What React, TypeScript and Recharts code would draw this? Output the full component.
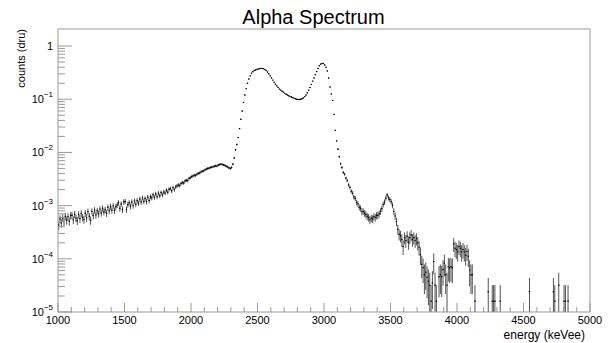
import React from 'react';
import { ScatterChart, Scatter, XAxis, YAxis, ErrorBar, ReferenceLine } from 'recharts';

// Histogram: 10 keV bins starting at 1000 keVee
const BIN_START = 1000;
const BIN_WIDTH = 10;
const COUNT_UNIT = 1.6e-5; // value of a single count (dru)

const counts: (number | null)[] = [
  // 1000
  4.3e-4, 5.6e-4, 4.7e-4, 5.9e-4, 5.0e-4, 6.3e-4, 5.3e-4, 6.2e-4, 5.1e-4, 6.5e-4,
  // 1100
  6.6e-4, 5.4e-4, 6.9e-4, 5.8e-4, 5.2e-4, 6.8e-4, 5.7e-4, 7.1e-4, 6.0e-4, 5.5e-4,
  // 1200
  7.2e-4, 5.9e-4, 7.7e-4, 6.3e-4, 5.3e-4, 7.8e-4, 6.5e-4, 8.2e-4, 6.7e-4, 8.0e-4,
  // 1300
  7.0e-4, 8.6e-4, 7.3e-4, 8.9e-4, 7.6e-4, 8.4e-4, 7.2e-4, 9.3e-4, 8.0e-4, 9.6e-4,
  // 1400
  8.2e-4, 9.9e-4, 8.1e-4, 9.5e-4, 1.03e-3, 1.13e-3, 8.9e-4, 1.07e-3, 8.4e-4, 1.17e-3,
  // 1500
  1.2e-3, 8.5e-4, 1.04e-3, 1.13e-3, 9.7e-4, 1.17e-3, 1.0e-3, 1.23e-3, 1.06e-3, 1.25e-3,
  // 1600
  1.11e-3, 1.33e-3, 1.17e-3, 1.4e-3, 1.2e-3, 1.36e-3, 1.19e-3, 1.44e-3, 1.25e-3, 1.47e-3,
  // 1700
  1.4e-3, 1.6e-3, 1.43e-3, 1.66e-3, 1.47e-3, 1.72e-3, 1.53e-3, 1.76e-3, 1.59e-3, 1.8e-3,
  // 1800
  1.72e-3, 1.95e-3, 1.79e-3, 2.03e-3, 2.1e-3, 1.9e-3, 2.18e-3, 2.0e-3, 2.25e-3, 2.35e-3,
  // 1900
  2.45e-3, 2.38e-3, 2.6e-3, 2.72e-3, 2.66e-3, 2.9e-3, 3.0e-3, 2.95e-3, 3.25e-3, 3.35e-3,
  // 2000
  3.5e-3, 3.6e-3, 3.75e-3, 3.7e-3, 3.9e-3, 4.05e-3, 4.1e-3, 4.3e-3, 4.45e-3, 4.5e-3,
  // 2100
  4.7e-3, 4.85e-3, 5.0e-3, 5.05e-3, 5.2e-3, 5.3e-3, 5.35e-3, 5.5e-3, 5.6e-3, 5.55e-3,
  // 2200
  5.8e-3, 5.9e-3, 6.0e-3, 5.95e-3, 5.8e-3, 5.7e-3, 5.5e-3, 5.35e-3, 5.15e-3, 5.0e-3,
  // 2300
  5.2e-3, 6.0e-3, 7.9e-3, 1.12e-2, 1.41e-2, 1.9e-2, 2.8e-2, 4.2e-2, 6.0e-2, 8.7e-2,
  // 2400
  0.12, 0.158, 0.2, 0.24, 0.275, 0.31, 0.33, 0.347, 0.355, 0.363,
  // 2500
  0.37, 0.376, 0.38, 0.38, 0.376, 0.363, 0.347, 0.324, 0.302, 0.275,
  // 2600
  0.251, 0.229, 0.209, 0.191, 0.178, 0.166, 0.155, 0.148, 0.141, 0.135,
  // 2700
  0.129, 0.124, 0.12, 0.116, 0.112, 0.11, 0.107, 0.105, 0.102, 0.1,
  // 2800
  0.099, 0.099, 0.1, 0.102, 0.106, 0.112, 0.12, 0.132, 0.148, 0.166,
  // 2900
  0.19, 0.219, 0.251, 0.288, 0.331, 0.38, 0.427, 0.457, 0.468, 0.468,
  // 3000
  0.44, 0.4, 0.34, 0.25, 0.17, 0.125, 0.095, 0.052, 0.026, 0.0165,
  // 3100
  1.15e-2, 8.3e-3, 6.1e-3, 5.2e-3, 4.2e-3, 3.9e-3, 3.3e-3, 2.95e-3, 2.45e-3, 2.2e-3,
  // 3200
  1.86e-3, 1.72e-3, 1.45e-3, 1.36e-3, 1.15e-3, 1.08e-3, 9.3e-4, 8.9e-4, 7.7e-4, 7.8e-4,
  // 3300
  7.2e-4, 6.8e-4, 6.3e-4, 6.0e-4, 5.4e-4, 5.8e-4, 5.6e-4, 6.2e-4, 6.0e-4, 6.5e-4,
  // 3400
  6.6e-4, 7.0e-4, 7.8e-4, 8.8e-4, 1.05e-3, 1.17e-3, 1.38e-3, 1.58e-3, 1.4e-3, 1.3e-3,
  // 3500
  1.18e-3, 1.02e-3, 7.8e-4, 6.4e-4, 5.0e-4, 3.6e-4, 2.9e-4, 2.7e-4, 2.3e-4, 1.7e-4,
  // 3600
  2.5e-4, 2.2e-4, 2.65e-4, 2.05e-4, 2.5e-4, 2.8e-4, 2.3e-4, 2.5e-4, 2.2e-4, 2.4e-4,
  // 3700
  2.0e-4, 1.66e-4, 1.2e-4, 7.9e-5, 6.8e-5, 5.0e-5, 5.6e-5, 4.5e-5, 3.8e-5, 3.2e-5,
  // 3800
  1.6e-5, 3.5e-5, 8.9e-5, 3.2e-5, 1.6e-5, null, 4.6e-5, 5.0e-5, 4.6e-5, 6.3e-5,
  // 3900
  8.3e-5, 5.0e-5, 3.2e-5, 7.1e-5, 6.8e-5, 7.1e-5, 6.8e-5, 1.9e-4, 1.58e-4, 1.48e-4,
  // 4000
  1.35e-4, 1.7e-4, 1.58e-4, 1.35e-4, 1.5e-4, 1.35e-4, 1.17e-4, 1.38e-4, 1.12e-4, 6.2e-5,
  // 4100
  5.0e-5, 5.0e-5, null, 1.6e-5,
];

// sparse high-energy tail (bin centres, keVee)
const tailEnergies = [4235, 4265, 4275, 4285, 4325, 4545, 4725, 4735, 4765, 4805, 4815, 4835];
const tailCounts = [2.4e-5, 1.6e-5, 1.6e-5, 1.6e-5, 1.6e-5, 2.4e-5, 2.4e-5, 1.6e-5, 3.2e-5, 1.6e-5, 1.6e-5, 1.6e-5];

const X_MIN = 1000;
const X_MAX = 5000;
const Y_MIN = 1e-5;
const Y_MAX = 2.09;

const xTicks = [
  1000, 1100, 1200, 1300, 1400, 1500, 1600, 1700, 1800, 1900,
  2000, 2100, 2200, 2300, 2400, 2500, 2600, 2700, 2800, 2900,
  3000, 3100, 3200, 3300, 3400, 3500, 3600, 3700, 3800, 3900,
  4000, 4100, 4200, 4300, 4400, 4500, 4600, 4700, 4800, 4900, 5000,
];
const xMajorLabels = [1000, 1500, 2000, 2500, 3000, 3500, 4000, 4500, 5000];
const yDecades = [1e-5, 1e-4, 1e-3, 1e-2, 1e-1];
const yMinorMult = [2, 3, 4, 5, 6, 7, 8, 9];
const yDecadeExponents = [-5, -4, -3, -2, -1, 0];

const yTicks: number[] = [];
yDecades.forEach((d) => {
  yTicks.push(d);
  yMinorMult.forEach((m) => yTicks.push(m * d));
});
yTicks.push(1);

type Pt = { x: number; y: number; yErr: [number, number]; xErr: number };
const makePoint = (x: number, v: number): Pt => {
  const err = Math.sqrt(v * COUNT_UNIT);
  const lo = Math.min(err, v - Y_MIN);
  return { x, y: v, yErr: [lo, err], xErr: BIN_WIDTH / 2 };
};

const points: Pt[] = [];
counts.forEach((v, i) => {
  if (v == null) return;
  points.push(makePoint(BIN_START + i * BIN_WIDTH + BIN_WIDTH / 2, v));
});
tailEnergies.forEach((e, i) => points.push(makePoint(e, tailCounts[i])));

const FONT = 'Liberation Sans, Arial, Helvetica, sans-serif';
const AXIS_COLOR = '#999';

const XTick = (props: any) => {
  const { x, y, payload } = props;
  const v = payload.value as number;
  const major = xMajorLabels.includes(v);
  return (
    <g>
      <line x1={x} y1={y} x2={x} y2={y - (major ? 9 : 5)} stroke={AXIS_COLOR} strokeWidth={1} />
      {major && (
        <text x={x} y={y + 8} textAnchor="middle" dominantBaseline="central" fontSize={11} fontFamily={FONT} fill="#000">
          {v}
        </text>
      )}
    </g>
  );
};

const YTick = (props: any) => {
  const { x, y, payload } = props;
  const v = payload.value as number;
  const lg = Math.log10(v);
  const exp = Math.round(lg);
  const major = Math.abs(lg - exp) < 1e-6 && yDecadeExponents.includes(exp);
  return (
    <g>
      <line x1={x} y1={y} x2={x + (major ? 14 : 7)} y2={y} stroke={AXIS_COLOR} strokeWidth={1} />
      {major && (
        <text x={x - 5} y={y} textAnchor="end" dominantBaseline="central" fontSize={11} fontFamily={FONT} fill="#000">
          {exp === 0 ? (
            '1'
          ) : (
            <>
              <tspan>10</tspan>
              <tspan dy={-5} fontSize={8}>{'\u2212' + String(-exp)}</tspan>
            </>
          )}
        </text>
      )}
    </g>
  );
};

const Marker = (p: any) => {
  if (p.cx == null || p.cy == null) return <g />;
  return <circle cx={p.cx} cy={p.cy} r={0.7} fill="#000" />;
};

export default function App() {
  return (
    <div style={{ position: 'absolute', left: 0, top: 0, width: 611, height: 343, background: '#fff' }}>
      <ScatterChart width={611} height={343} margin={{ top: 29, right: 21, bottom: 0, left: 0 }}>
        <XAxis
          type="number"
          dataKey="x"
          domain={[X_MIN, X_MAX]}
          ticks={xTicks}
          interval={0}
          allowDataOverflow
          height={31}
          tickSize={0}
          tickMargin={0}
          tickLine={false}
          axisLine={{ stroke: AXIS_COLOR }}
          tick={<XTick />}
        />
        <YAxis
          type="number"
          dataKey="y"
          scale="log"
          domain={[Y_MIN, Y_MAX]}
          ticks={yTicks}
          interval={0}
          allowDataOverflow
          width={58}
          tickSize={0}
          tickMargin={0}
          tickLine={false}
          axisLine={{ stroke: AXIS_COLOR }}
          tick={<YTick />}
        />
        <ReferenceLine y={Y_MAX} stroke={AXIS_COLOR} ifOverflow="visible" />
        <ReferenceLine x={X_MAX} stroke={AXIS_COLOR} ifOverflow="visible" />
        <Scatter data={points} isAnimationActive={false} shape={<Marker />}>
          <ErrorBar dataKey="yErr" direction="y" width={0} stroke="#555" strokeWidth={1} />
          <ErrorBar dataKey="xErr" direction="x" width={0} stroke="#555" strokeWidth={1} />
        </Scatter>
      </ScatterChart>
      <svg
        width={611}
        height={343}
        style={{ position: 'absolute', left: 0, top: 0, pointerEvents: 'none' }}
      >
        <text x={313.5} y={24} textAnchor="middle" fontSize={20} fontFamily={FONT} fill="#000">
          Alpha Spectrum
        </text>
        <text transform="translate(25,29) rotate(-90)" textAnchor="end" fontSize={11} fontFamily={FONT} fill="#000">
          counts (dru)
        </text>
        <text x={585} y={339} textAnchor="end" fontSize={12} fontFamily={FONT} fill="#000">
          energy (keVee)
        </text>
      </svg>
    </div>
  );
}
